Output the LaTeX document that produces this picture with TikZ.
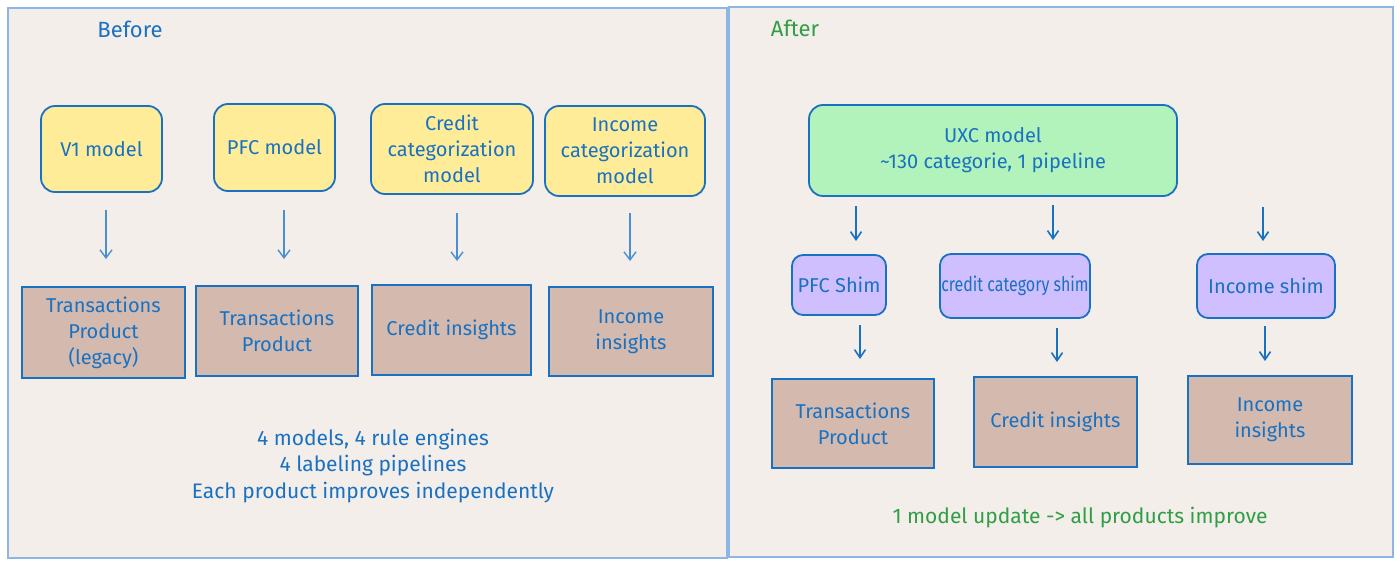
\documentclass[tikz,border=0pt]{standalone}
\usepackage{fontspec}
\setmainfont{Fira Sans}
\usetikzlibrary{arrows.meta}
\definecolor{exblue}{HTML}{1971C2}
\definecolor{arrlight}{HTML}{4A8FD2}
\definecolor{exgreen}{HTML}{2F9E44}
\definecolor{panelbg}{HTML}{F3EEEA}
\definecolor{panelline}{HTML}{8DB6E6}
\definecolor{yellowfill}{HTML}{FFEC99}
\definecolor{greenfill}{HTML}{B2F2BB}
\definecolor{purplefill}{HTML}{D0BFFF}
\definecolor{brownfill}{HTML}{D3B9AE}
\tikzset{
  panel/.style={draw=panelline, line width=1.5pt, fill=panelbg},
  modelbox/.style={draw=exblue, line width=1.8pt, rounded corners=14pt, fill=yellowfill, text=exblue, align=center, inner sep=0pt},
  uxcbox/.style={modelbox, fill=greenfill},
  shimbox/.style={modelbox, fill=purplefill, rounded corners=11pt},
  prodbox/.style={draw=exblue, line width=1.8pt, fill=brownfill, text=exblue, align=center, inner sep=0pt},
  lightarrow/.style={draw=arrlight, line width=1.4pt, -{Straight Barb[length=8pt,width=12pt,line width=1.4pt]}},
  darkarrow/.style={draw=exblue, line width=1.6pt, -{Straight Barb[length=8pt,width=11pt,line width=1.6pt]}},
  lbl/.style={font=\fontsize{20}{26}\selectfont},
  note/.style={font=\fontsize{21}{26.5}\selectfont, align=center, inner sep=0pt},
  title/.style={font=\fontsize{22}{24}\selectfont}
}
\begin{document}
\begin{tikzpicture}[x=1pt,y=-1pt]
\useasboundingbox[fill=white] (0,0) rectangle (1400,562);
% panels
\draw[panel] (8,8) rectangle (727,558);
\draw[panel] (729,7) rectangle (1393,557);
\node[title, text=exblue] (before) at (130,29) {Before};
\node[title, text=exgreen] (after) at (795,28) {After};
% Before: models
\node[modelbox, lbl, minimum width=121pt, minimum height=86pt] (v1) at (101.5,149) {V1 model};
\node[modelbox, lbl, minimum width=121pt, minimum height=87pt] (pfc) at (274.5,147.5) {PFC model};
\node[modelbox, lbl, minimum width=162pt, minimum height=90pt] (credit) at (452,149) {Credit\\categorization\\model};
\node[modelbox, lbl, minimum width=160pt, minimum height=90pt] (income) at (625,151) {Income\\categorization\\model};
% Before: products
\node[prodbox, lbl, minimum width=163pt, minimum height=91pt] (tpl) at (103.5,332.5) {Transactions\\Product\\(legacy)};
\node[prodbox, lbl, minimum width=162pt, minimum height=90pt] (tp) at (277,331) {Transactions\\Product};
\node[prodbox, lbl, minimum width=159pt, minimum height=90pt] (ci) at (451.5,330) {Credit insights};
\node[prodbox, lbl, minimum width=164pt, minimum height=89pt] (ii) at (631,331.5) {Income\\insights};
% Before arrows
\coordinate (a1s) at (106,210); \coordinate (a1e) at (106,259);
\coordinate (a2s) at (284,210); \coordinate (a2e) at (284,259);
\coordinate (a3s) at (457,213); \coordinate (a3e) at (457,261);
\coordinate (a4s) at (630,213); \coordinate (a4e) at (630,261);
\draw[lightarrow] (a1s) -- (a1e);
\draw[lightarrow] (a2s) -- (a2e);
\draw[lightarrow] (a3s) -- (a3e);
\draw[lightarrow] (a4s) -- (a4e);
\node[note, text=exblue] (summary) at (373,466) {4 models, 4 rule engines\\4 labeling pipelines\\Each product improves independently};
% After
\node[uxcbox, lbl, minimum width=368pt, minimum height=91pt] (uxc) at (993,150.5) {UXC model\\\textasciitilde130 categorie, 1 pipeline};
\node[shimbox, lbl, minimum width=94pt, minimum height=60pt] (pfcs) at (839,285) {PFC Shim};
\node[shimbox, lbl, minimum width=150pt, minimum height=64pt] (ccs) at (1015,286) {\addfontfeatures{FakeStretch=0.8}credit category shim};
\node[shimbox, lbl, minimum width=138pt, minimum height=64pt] (ins) at (1266,286) {Income shim};
\node[prodbox, lbl, minimum width=162pt, minimum height=89pt] (tp2) at (853,423.5) {Transactions\\Product};
\node[prodbox, lbl, minimum width=163pt, minimum height=90pt] (ci2) at (1055.5,422) {Credit insights};
\node[prodbox, lbl, minimum width=164pt, minimum height=88pt] (ii2) at (1270,420) {Income\\insights};
\draw[darkarrow] (856,206) -- (856,241);
\draw[darkarrow] (1053,205) -- (1053,240);
\draw[darkarrow] (1263,207) -- (1263,241);
\draw[darkarrow] (860,325) -- (860,359);
\draw[darkarrow] (1057,328) -- (1057,362);
\draw[darkarrow] (1265,326) -- (1265,361);
\node[note, text=exgreen] (result) at (1080,518) {1 model update -> all products improve};
\end{tikzpicture}
\end{document}
